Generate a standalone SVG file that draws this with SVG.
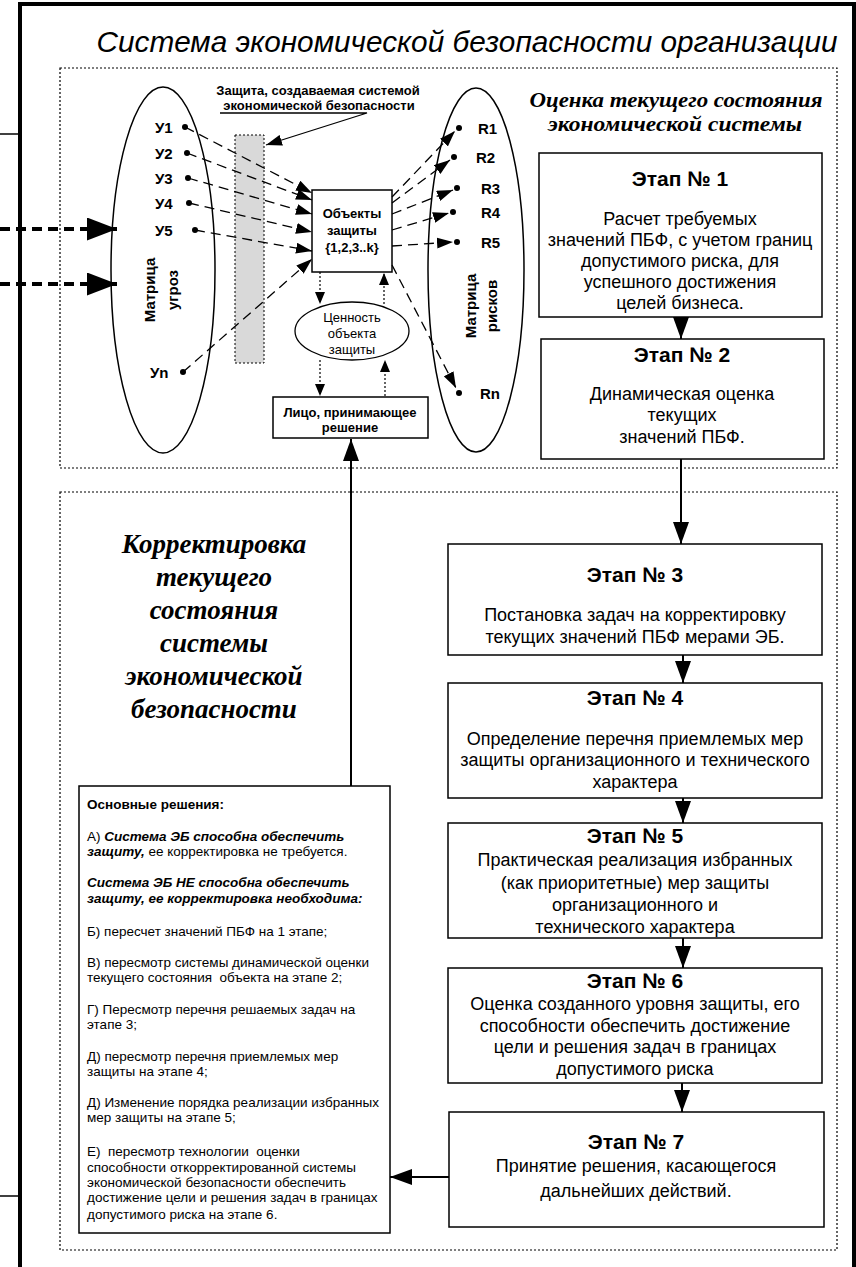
<svg xmlns="http://www.w3.org/2000/svg" width="856" height="1267" viewBox="0 0 856 1267">
<defs>
<style>
.t{font-family:"Liberation Sans",Arial,sans-serif;fill:#000}
.b{font-weight:bold}
.c{text-anchor:middle}
.sf{font-family:"Liberation Serif","Times New Roman",serif;font-weight:bold;font-style:italic;text-anchor:middle;fill:#000}
.box{fill:#fff;stroke:#000;stroke-width:1.5}
.dash{fill:none;stroke:#000;stroke-width:1.3;stroke-dasharray:10 6}
.dotl{fill:none;stroke:#000;stroke-width:1.2;stroke-dasharray:2 2}
.frm{fill:none;stroke:#000;stroke-width:1.2;stroke-dasharray:2 2}
.solid{fill:none;stroke:#000;stroke-width:2}
.stg{font-size:21px;font-weight:bold}
.bd{font-size:18px}
.dt{font-size:13.5px}
</style>
<marker id="ah" markerUnits="userSpaceOnUse" markerWidth="17" markerHeight="11" refX="16" refY="5.5" orient="auto"><path d="M0,0 L16,5.5 L0,11 z" fill="#000"/></marker>
<marker id="ahs" markerUnits="userSpaceOnUse" markerWidth="13" markerHeight="10" refX="12" refY="5" orient="auto"><path d="M0,0 L12,5 L0,10 z" fill="#000"/></marker>
<marker id="ahb" markerUnits="userSpaceOnUse" markerWidth="23" markerHeight="16" refX="22" refY="8" orient="auto"><path d="M0,0 L22,8 L0,16 z" fill="#000"/></marker>
<marker id="ahx" markerUnits="userSpaceOnUse" markerWidth="31" markerHeight="23" refX="30" refY="11.5" orient="auto"><path d="M0,0 L30,11.5 L0,23 z" fill="#000"/></marker>
</defs>
<rect width="856" height="1267" fill="#fff"/>

<g id="frame">
<path d="M20,1267 V4 H854 V1267" fill="none" stroke="#000" stroke-width="4"/>
<line x1="0" y1="134" x2="20" y2="134" stroke="#000" stroke-width="1.5"/>
<line x1="0" y1="1196" x2="20" y2="1196" stroke="#000" stroke-width="1.5"/>
<rect class="frm" x="60" y="68" width="777" height="400"/>
<rect class="frm" x="60" y="492" width="777" height="758"/>
</g>

<g id="title">
<text class="t c" x="467" y="52" font-size="29" font-style="italic" textLength="741" lengthAdjust="spacingAndGlyphs">Система экономической безопасности организации</text>
</g>

<g id="header-assessment">
<text class="sf" x="676" y="107" font-size="22" textLength="293" lengthAdjust="spacingAndGlyphs">Оценка текущего состояния</text>
<text class="sf" x="675" y="131" font-size="22" textLength="254" lengthAdjust="spacingAndGlyphs">экономической системы</text>
</g>

<g id="header-correction">
<text class="sf" x="214" y="553" font-size="27">Корректировка</text>
<text class="sf" x="214" y="586" font-size="27">текущего</text>
<text class="sf" x="214" y="619" font-size="27">состояния</text>
<text class="sf" x="214" y="652" font-size="27">системы</text>
<text class="sf" x="214" y="685" font-size="27">экономической</text>
<text class="sf" x="214" y="718" font-size="27">безопасности</text>
</g>

<g id="threat-matrix">
<ellipse cx="163" cy="270" rx="52" ry="183" fill="none" stroke="#000" stroke-width="1.5"/>
<text class="t b c" font-size="15" transform="translate(155,290) rotate(-90)">Матрица</text>
<text class="t b c" font-size="15" transform="translate(178,290) rotate(-90)">угроз</text>
<g class="t b" font-size="15">
<text x="155" y="133">У1</text>
<text x="155" y="159">У2</text>
<text x="155" y="184">У3</text>
<text x="155" y="209">У4</text>
<text x="155" y="236">У5</text>
<text x="150" y="378">Уn</text>
</g>
<g fill="#000">
<circle cx="185" cy="127" r="3"/>
<circle cx="187" cy="153" r="3"/>
<circle cx="188" cy="178" r="3"/>
<circle cx="189" cy="203" r="3"/>
<circle cx="195" cy="230" r="3"/>
<circle cx="183" cy="372" r="3"/>
</g>
</g>

<g id="protection-barrier">
<rect x="235" y="135" width="29" height="228" fill="#d9d9d9" stroke="#000" stroke-width="1" stroke-dasharray="2 2"/>
<text class="t b c" x="318" y="95" font-size="13">Защита, создаваемая системой</text>
<text class="t b c" x="319" y="110" font-size="13">экономической безопасности</text>
</g>

<g id="protected-objects">
<rect class="box" x="312" y="190" width="80" height="82"/>
<text class="t b c" x="352" y="218" font-size="13">Объекты</text>
<text class="t b c" x="352" y="235" font-size="13">защиты</text>
<text class="t b c" x="352" y="252" font-size="13">{1,2,3..k}</text>
</g>

<g id="object-value">
<ellipse cx="352" cy="331" rx="57" ry="29" fill="#fff" stroke="#000" stroke-width="1.3"/>
<text class="t c" x="352" y="322" font-size="13">Ценность</text>
<text class="t c" x="352" y="338" font-size="13">объекта</text>
<text class="t c" x="352" y="354" font-size="13">защиты</text>
</g>

<g id="decision-maker">
<rect class="box" x="273" y="397" width="155" height="41"/>
<text class="t b c" x="350" y="417" font-size="13">Лицо, принимающее</text>
<text class="t b c" x="350" y="432" font-size="13">решение</text>
</g>

<g id="risk-matrix">
<ellipse cx="476" cy="270" rx="48" ry="182" fill="none" stroke="#000" stroke-width="1.5"/>
<text class="t b c" font-size="15" transform="translate(476,306) rotate(-90)">Матрица</text>
<text class="t b c" font-size="15" transform="translate(497,306) rotate(-90)">рисков</text>
<g class="t b" font-size="15">
<text x="478" y="134">R1</text>
<text x="476" y="163">R2</text>
<text x="481" y="194">R3</text>
<text x="481" y="218">R4</text>
<text x="481" y="248">R5</text>
<text x="480" y="399">Rn</text>
</g>
<g fill="#000">
<circle cx="459" cy="128" r="3"/>
<circle cx="454" cy="157" r="3"/>
<circle cx="457" cy="188" r="3"/>
<circle cx="453" cy="212" r="3"/>
<circle cx="457" cy="242" r="3"/>
<circle cx="459" cy="393" r="3"/>
</g>
</g>

<g id="stage1">
<rect class="box" x="539" y="153" width="283" height="164"/>
<text class="t c stg" x="680" y="186">Этап № 1</text>
<text class="t c bd" x="680" y="225">Расчет требуемых</text>
<text class="t c bd" x="680" y="246">значений ПБФ, с учетом границ</text>
<text class="t c bd" x="680" y="267">допустимого риска, для</text>
<text class="t c bd" x="680" y="288">успешного достижения</text>
<text class="t c bd" x="680" y="309">целей бизнеса.</text>
</g>

<g id="stage2">
<rect class="box" x="541" y="339" width="283" height="120"/>
<text class="t c stg" x="682" y="362">Этап № 2</text>
<text class="t c bd" x="682" y="400">Динамическая оценка</text>
<text class="t c bd" x="682" y="421">текущих</text>
<text class="t c bd" x="682" y="443">значений ПБФ.</text>
</g>

<g id="stage3">
<rect class="box" x="448" y="544" width="374" height="111"/>
<text class="t c stg" x="635" y="582">Этап № 3</text>
<text class="t c bd" x="635" y="621">Постановка задач на корректировку</text>
<text class="t c bd" x="635" y="643">текущих значений ПБФ мерами ЭБ.</text>
</g>

<g id="stage4">
<rect class="box" x="448" y="683" width="374" height="115"/>
<text class="t c stg" x="635" y="705">Этап № 4</text>
<text class="t c bd" x="635" y="745">Определение перечня приемлемых мер</text>
<text class="t c bd" x="635" y="766">защиты организационного и технического</text>
<text class="t c bd" x="635" y="788">характера</text>
</g>

<g id="stage5">
<rect class="box" x="448" y="823" width="374" height="115"/>
<text class="t c stg" x="635" y="843">Этап № 5</text>
<text class="t c bd" x="635" y="866">Практическая реализация избранных</text>
<text class="t c bd" x="635" y="889">(как приоритетные) мер защиты</text>
<text class="t c bd" x="635" y="911">организационного и</text>
<text class="t c bd" x="635" y="933">технического характера</text>
</g>

<g id="stage6">
<rect class="box" x="448" y="968" width="374" height="115"/>
<text class="t c stg" x="635" y="988">Этап № 6</text>
<text class="t c bd" x="635" y="1010">Оценка созданного уровня защиты, его</text>
<text class="t c bd" x="635" y="1032">способности обеспечить достижение</text>
<text class="t c bd" x="635" y="1053">цели и решения задач в границах</text>
<text class="t c bd" x="635" y="1075">допустимого риска</text>
</g>

<g id="stage7">
<rect class="box" x="449" y="1112" width="375" height="115"/>
<text class="t c stg" x="636" y="1149">Этап № 7</text>
<text class="t c bd" x="636" y="1172">Принятие решения, касающегося</text>
<text class="t c bd" x="636" y="1197">дальнейших действий.</text>
</g>

<g id="decisions">
<rect class="box" x="79" y="786" width="311" height="447"/>
<g class="t dt">
<text x="87" y="809" font-weight="bold">Основные решения:</text>
<text x="87" y="841">А) <tspan font-weight="bold" font-style="italic">Система ЭБ способна обеспечить</tspan></text>
<text x="87" y="856"><tspan font-weight="bold" font-style="italic">защиту,</tspan> ее корректировка не требуется.</text>
<text x="87" y="887" font-weight="bold" font-style="italic">Система ЭБ НЕ способна обеспечить</text>
<text x="87" y="903" font-weight="bold" font-style="italic">защиту, ее корректировка необходима:</text>
<text x="87" y="936">Б) пересчет значений ПБФ на 1 этапе;</text>
<text x="87" y="967">В) пересмотр системы динамической оценки</text>
<text x="87" y="982" xml:space="preserve">текущего состояния  объекта на этапе 2;</text>
<text x="87" y="1014">Г) Пересмотр перечня решаемых задач на</text>
<text x="87" y="1029">этапе 3;</text>
<text x="87" y="1061">Д) пересмотр перечня приемлемых мер</text>
<text x="87" y="1076">защиты на этапе 4;</text>
<text x="87" y="1107">Д) Изменение порядка реализации избранных</text>
<text x="87" y="1122">мер защиты на этапе 5;</text>
<text x="87" y="1156" xml:space="preserve">Е)  пересмотр технологии  оценки</text>
<text x="87" y="1172">способности откорректированной системы</text>
<text x="87" y="1187">экономической безопасности обеспечить</text>
<text x="87" y="1202">достижение цели и решения задач в границах</text>
<text x="87" y="1219">допустимого риска на этапе 6.</text>
</g>
</g>

<g id="connectors">
<line x1="0" y1="229" x2="117" y2="229" stroke="#000" stroke-width="4" stroke-dasharray="10 6" marker-end="url(#ahx)"/>
<line x1="0" y1="284" x2="117" y2="284" stroke="#000" stroke-width="4" stroke-dasharray="10 6" marker-end="url(#ahx)"/>
<polyline points="220,113 367,113 266,145" fill="none" stroke="#000" stroke-width="1.3" marker-end="url(#ah)"/>
<line class="dash" x1="185" y1="127" x2="312" y2="193" marker-end="url(#ah)"/>
<line class="dash" x1="187" y1="153" x2="312" y2="200" marker-end="url(#ah)"/>
<line class="dash" x1="188" y1="178" x2="312" y2="214" marker-end="url(#ah)"/>
<line class="dash" x1="189" y1="203" x2="312" y2="232" marker-end="url(#ah)"/>
<line class="dash" x1="195" y1="230" x2="312" y2="251" marker-end="url(#ah)"/>
<line class="dash" x1="183" y1="372" x2="312" y2="259" marker-end="url(#ah)"/>
<line class="dash" x1="392" y1="197" x2="455" y2="131" marker-end="url(#ah)"/>
<line class="dash" x1="392" y1="203" x2="450" y2="160" marker-end="url(#ah)"/>
<line class="dash" x1="392" y1="214" x2="453" y2="190" marker-end="url(#ah)"/>
<line class="dash" x1="392" y1="230" x2="449" y2="213" marker-end="url(#ah)"/>
<line class="dash" x1="392" y1="246" x2="453" y2="242" marker-end="url(#ah)"/>
<line class="dash" x1="392" y1="265" x2="456" y2="388" marker-end="url(#ah)"/>
<line class="dotl" x1="320" y1="272" x2="320" y2="304" marker-end="url(#ahs)"/>
<line class="dotl" x1="384" y1="304" x2="384" y2="273" marker-end="url(#ahs)"/>
<line class="dotl" x1="320" y1="360" x2="320" y2="396" marker-end="url(#ahs)"/>
<line class="dotl" x1="385" y1="396" x2="385" y2="360" marker-end="url(#ahs)"/>
<line class="solid" x1="681" y1="317" x2="681" y2="339" marker-end="url(#ahb)"/>
<line class="solid" x1="681" y1="459" x2="681" y2="544" stroke-width="2.5" marker-end="url(#ahb)"/>
<line class="solid" x1="683" y1="655" x2="683" y2="683" marker-end="url(#ahb)"/>
<line class="solid" x1="683" y1="798" x2="683" y2="823" marker-end="url(#ahb)"/>
<line class="solid" x1="683" y1="938" x2="683" y2="968" marker-end="url(#ahb)"/>
<line class="solid" x1="682" y1="1083" x2="682" y2="1112" marker-end="url(#ahb)"/>
<line class="solid" x1="449" y1="1177" x2="390" y2="1177" marker-end="url(#ahb)"/>
<line class="solid" x1="351" y1="786" x2="351" y2="439" marker-end="url(#ahb)"/>
</g>
</svg>
